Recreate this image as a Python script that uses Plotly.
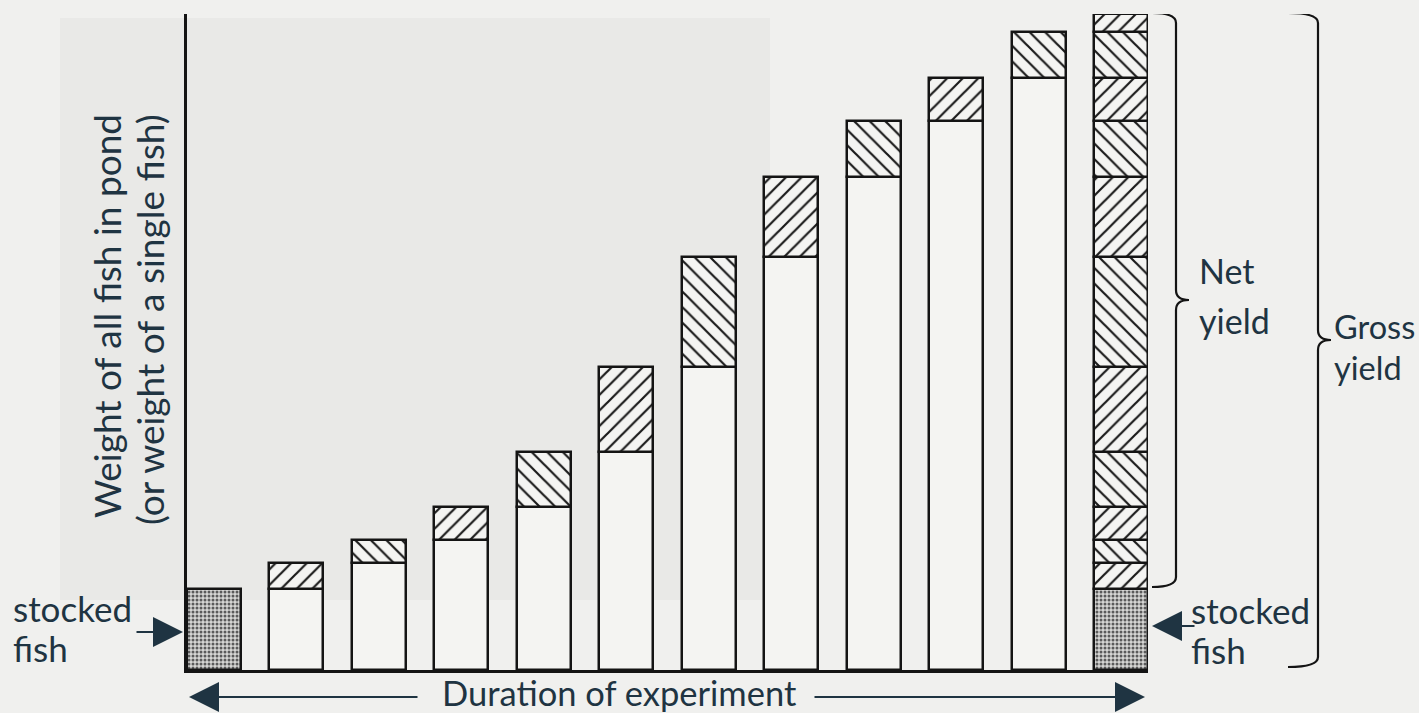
import plotly.graph_objects as go

# ---------------- data (arbitrary weight units) ----------------
sample_index = list(range(12))                     # successive samplings over the experiment
total_weight = [81, 107, 130, 163, 218, 303, 413, 493, 549, 592, 638, 656]  # weight at each sampling
stocked_weight = 81                                # weight of stocked fish
final_index = 11                                   # last bar = harvest (gross yield)

# ---------------- style constants ----------------
PAPER = "#f0f0ee"
BARFILL = "#f4f4f2"
INK = "#141414"
TEXT = "#1f3442"
FONT = "Lato"
BAR_W = 0.655
L, R, T, B = 187, 271, 14, 43
W_FIG, H_FIG = 1419, 713
PW = W_FIG - L - R
PH = H_FIG - T - B


def xp(px):
    return (px - L) / PW


def yp(py):
    return (H_FIG - B - py) / PH


def hatch(k):
    return "/" if k % 2 == 1 else "\\"


fig = go.Figure()

# stocked fish (dotted)
fig.add_trace(go.Bar(
    x=[sample_index[0], sample_index[final_index]],
    y=[stocked_weight, stocked_weight],
    base=[0, 0],
    width=BAR_W,
    marker=dict(color="#cfcfcd", line=dict(color=INK, width=2.5),
                pattern=dict(shape=".", fgcolor="#5a5a5a", bgcolor="#d6d6d4", fgopacity=1,
                             size=4, solidity=0.45, fillmode="overlay")),
    hoverinfo="skip", showlegend=False))

# weight already present at previous sampling (plain)
wx = sample_index[1:final_index]
wy = [total_weight[k - 1] for k in wx]
fig.add_trace(go.Bar(
    x=wx, y=wy, base=[0] * len(wx), width=BAR_W,
    marker=dict(color=BARFILL, line=dict(color=INK, width=2.5)),
    hoverinfo="skip", showlegend=False))

# increments (hatched): on each bar and stacked on the final harvest bar
ix, ib, iy, ish = [], [], [], []
for k in range(1, final_index):
    ix.append(sample_index[k]); ib.append(total_weight[k - 1])
    iy.append(total_weight[k] - total_weight[k - 1]); ish.append(hatch(k))
for k in range(1, final_index + 1):
    ix.append(sample_index[final_index]); ib.append(total_weight[k - 1])
    iy.append(total_weight[k] - total_weight[k - 1]); ish.append(hatch(k))
fig.add_trace(go.Bar(
    x=ix, y=iy, base=ib, width=BAR_W,
    marker=dict(color=BARFILL, line=dict(color=INK, width=2.5),
                pattern=dict(shape=ish, fgcolor="#1a1a1a", bgcolor=BARFILL, fgopacity=1,
                             size=11, solidity=0.2, fillmode="overlay")),
    hoverinfo="skip", showlegend=False))

# ---------------- braces ----------------
def brace(x_line, x_tip, x_hook, y_top, y_bot, r):
    y_mid = (y_top + y_bot) / 2
    return (f"M {x_hook},{y_top} Q {x_line},{y_top} {x_line},{y_top - r} "
            f"L {x_line},{y_mid + r} Q {x_line},{y_mid} {x_tip},{y_mid} "
            f"Q {x_line},{y_mid} {x_line},{y_mid - r} "
            f"L {x_line},{y_bot + r} Q {x_line},{y_bot} {x_hook},{y_bot}")


shapes = [
    # faint show-through region of the scanned page
    dict(type="rect", xref="paper", yref="paper", x0=xp(60), x1=xp(770), y0=yp(600), y1=yp(18),
         fillcolor="#e9e9e7", line=dict(width=0), layer="below"),
    dict(type="path", xref="paper", yref="y",
         path=brace(xp(1176), xp(1189), xp(1152), total_weight[-1] + 1, stocked_weight + 2, 10),
         line=dict(color=INK, width=2.2)),
    dict(type="path", xref="paper", yref="y",
         path=brace(xp(1318), xp(1331), xp(1288), total_weight[-1] + 1, 3, 10),
         line=dict(color=INK, width=2.2)),
]


def label(text, px, py, size=34, anchor="left", angle=0):
    return dict(text=text, xref="paper", yref="paper", x=xp(px), y=yp(py),
                xanchor=anchor, yanchor="middle", textangle=angle, showarrow=False,
                font=dict(family=FONT, size=size, color=TEXT))


annotations = [
    label("Weight of all fish in pond", 106, 316, 37, "center", -90),
    label("(or weight of a single fish)", 149, 320, 37, "center", -90),
    label("stocked", 11, 608, 35),
    label("fish", 11, 648, 35),
    label("stocked", 1189, 610, 35),
    label("fish", 1189, 650, 35),
    label("Net", 1197, 270, 34),
    label("yield", 1197, 320, 34),
    label("Gross", 1332, 326, 32.5),
    label("yield", 1332, 368, 32.5),
    label("Duration of experiment", 619, 692, 34.5, "center"),
]
arrow_style = dict(text="", showarrow=True, arrowhead=2, arrowsize=3, arrowwidth=2,
                   arrowcolor=TEXT, xref="paper", yref="paper", axref="pixel", ayref="pixel")
annotations += [
    dict(x=xp(189), y=yp(697), ax=230, ay=0, **arrow_style),
    dict(x=xp(1145), y=yp(697), ax=-332, ay=0, **arrow_style),
    dict(x=xp(183), y=yp(632), ax=-48, ay=0, **arrow_style),
    dict(x=xp(1152), y=yp(626), ax=44, ay=0, **arrow_style),
]

fig.update_layout(
    width=W_FIG, height=H_FIG,
    margin=dict(l=L, r=R, t=T, b=B, pad=0),
    paper_bgcolor=PAPER, plot_bgcolor=PAPER,
    barmode="overlay", bargap=0,
    showlegend=False,
    shapes=shapes, annotations=annotations,
    xaxis=dict(range=[sample_index[0] - BAR_W / 2, sample_index[final_index] + BAR_W / 2],
               showline=True, linecolor=INK, linewidth=2.5, showgrid=False, zeroline=False,
               showticklabels=False, ticks="", fixedrange=True),
    yaxis=dict(range=[0, total_weight[-1]], showline=True, linecolor=INK, linewidth=2.5,
               showgrid=False, zeroline=False, showticklabels=False, ticks="", fixedrange=True),
)

fig.write_html("out.html", config={"displayModeBar": False},
               post_script="document.body.style.margin='0';document.body.style.background='%s';" % PAPER)
